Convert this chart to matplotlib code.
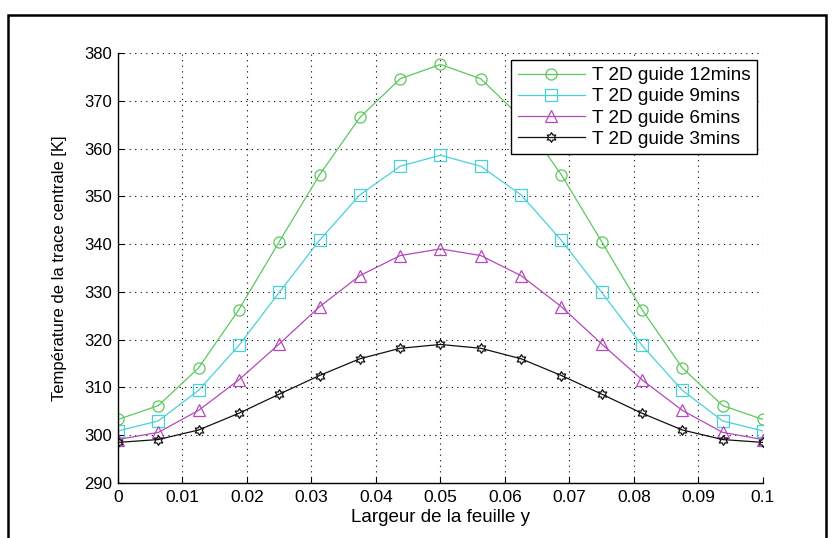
import numpy as np
import matplotlib
matplotlib.use("Agg")
import matplotlib.pyplot as plt
from matplotlib.path import Path
from matplotlib.patches import Rectangle

plt.rcParams['font.family'] = ['Liberation Sans', 'DejaVu Sans']

# Position across the sheet width (m)
y_pos = [0.0, 0.00625, 0.0125, 0.01875, 0.025, 0.03125, 0.0375, 0.04375, 0.05,
         0.05625, 0.0625, 0.06875, 0.075, 0.08125, 0.0875, 0.09375, 0.1]

# Centre-line temperature (K) after each heating time
t_12min = [303.3, 306.2, 314.1, 326.3, 340.5, 354.5, 366.5, 374.6, 377.6,
           374.6, 366.5, 354.5, 340.5, 326.3, 314.1, 306.2, 303.3]
t_9min = [300.9, 303.0, 309.4, 318.8, 329.9, 340.8, 350.3, 356.3, 358.6,
          356.3, 350.3, 340.8, 329.9, 318.8, 309.4, 303.0, 300.9]
t_6min = [299.1, 300.6, 305.2, 311.6, 319.1, 326.9, 333.4, 337.6, 339.0,
          337.6, 333.4, 326.9, 319.1, 311.6, 305.2, 300.6, 299.1]
t_3min = [298.5, 299.1, 301.1, 304.6, 308.6, 312.5, 316.0, 318.2, 319.0,
          318.2, 316.0, 312.5, 308.6, 304.6, 301.1, 299.1, 298.5]

series = [
    ("T 2D guide 12mins", t_12min, "#5cc85c", "o"),
    ("T 2D guide 9mins", t_9min, "#48d2d8", "s"),
    ("T 2D guide 6mins", t_6min, "#b448bc", "^"),
    ("T 2D guide 3mins", t_3min, "#111111", "hexagram"),
]

x_ticks = [0, 0.01, 0.02, 0.03, 0.04, 0.05, 0.06, 0.07, 0.08, 0.09, 0.1]
x_tick_labels = ["0", "0.01", "0.02", "0.03", "0.04", "0.05", "0.06", "0.07",
                 "0.08", "0.09", "0.1"]
y_ticks = [290, 300, 310, 320, 330, 340, 350, 360, 370, 380]

# Six-pointed star marker
ang = np.pi / 2 + np.arange(12) * np.pi / 6
rad = np.where(np.arange(12) % 2 == 0, 1.0, 1.0 / np.sqrt(3))
verts = np.column_stack([rad * np.cos(ang), rad * np.sin(ang)])
verts = np.vstack([verts, verts[:1]])
codes = [Path.MOVETO] + [Path.LINETO] * 11 + [Path.CLOSEPOLY]
hexagram = Path(verts, codes)

fig = plt.figure(figsize=(8.32, 5.38), dpi=100)
ax = fig.add_axes([0.1418, 0.1022, 0.917 - 0.1418, 0.9015 - 0.1022])

for label, vals, color, mk in series:
    marker = hexagram if mk == "hexagram" else mk
    ms = 7 if mk == "hexagram" else 8
    ax.plot(y_pos, vals, color=color, lw=0.9, marker=marker, markersize=ms,
            markerfacecolor="none", markeredgecolor=color, markeredgewidth=0.9,
            label=label)

ax.set_xlim(0, 0.1)
ax.set_ylim(290, 380)
ax.set_xticks(x_ticks)
ax.set_xticklabels(x_tick_labels)
ax.set_yticks(y_ticks)
ax.tick_params(direction="in", length=4, colors="black", width=0.8)
ax.tick_params(axis="x", labelsize=12.5, pad=5)
ax.tick_params(axis="y", labelsize=12, pad=4)
ax.grid(True, color="black", linestyle=(0, (1, 4)), linewidth=0.8)
for side in ("top", "right"):
    ax.spines[side].set_visible(False)
for side in ("left", "bottom"):
    ax.spines[side].set_color("black")
    ax.spines[side].set_linewidth(1.0)

ax.set_xlabel("Largeur de la feuille y", fontsize=13.5, labelpad=3)
ax.set_ylabel("Température de la trace centrale [K]", fontsize=12)
ax.yaxis.set_label_coords(-0.079, 0.5)

leg = ax.legend(loc="upper right", bbox_to_anchor=(0.991, 0.983), fontsize=13.7,
                frameon=True, fancybox=False, edgecolor="black",
                handlelength=3.55, handletextpad=0.35, borderpad=0.35,
                labelspacing=0.2, borderaxespad=0.0)
leg.get_frame().set_linewidth(1.0)
leg.get_frame().set_alpha(1.0)

# Outer frame around the figure
fig.patches.append(Rectangle((8 / 832, -0.1), (826 - 8) / 832, 1.1 - 15 / 538,
                             transform=fig.transFigure, fill=False,
                             edgecolor="black", linewidth=1.8))

fig.savefig("out.png", dpi=100)
